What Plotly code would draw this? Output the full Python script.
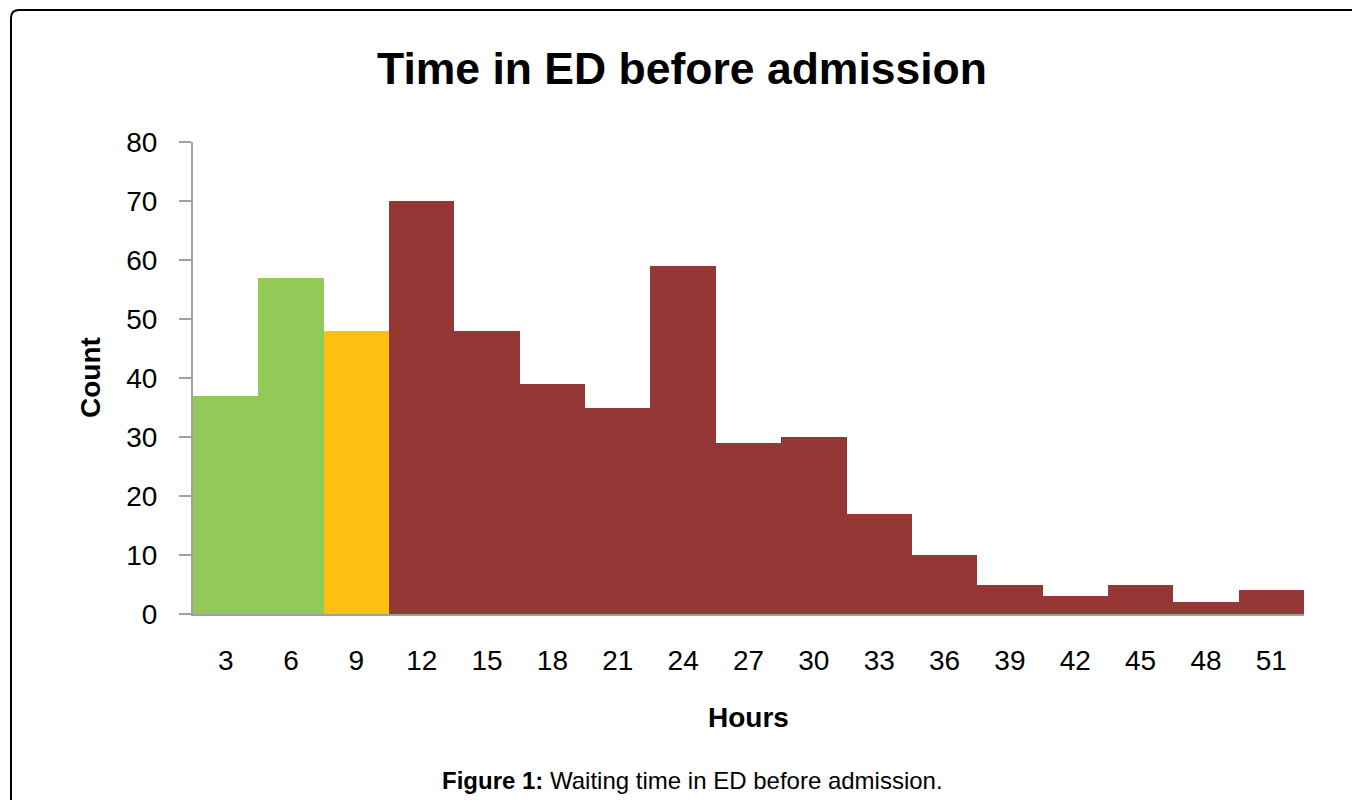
import plotly.graph_objects as go

hours = ["3", "6", "9", "12", "15", "18", "21", "24", "27", "30", "33", "36", "39", "42", "45", "48", "51"]
counts = [37, 57, 48, 70, 48, 39, 35, 59, 29, 30, 17, 10, 5, 3, 5, 2, 4]
groups = ["green", "green", "amber", "red", "red", "red", "red", "red", "red", "red",
          "red", "red", "red", "red", "red", "red", "red"]
palette = {"green": "#92C957", "amber": "#FDC012", "red": "#953735"}

OFF = 8  # page body margin
W, H = 1360 - OFF, 800 - OFF
# plot-area edges in screenshot pixels
L, R, T, B = 193, 1304, 142, 614


def px(x):
    return (x - L) / (R - L)


def py(y):
    return (B - y) / (B - T)


fig = go.Figure(go.Bar(
    x=hours, y=counts,
    marker=dict(color=[palette[g] for g in groups], line=dict(width=0)),
    width=1.0,
))

font = "Liberation Sans, Arial, sans-serif"

# rounded frame around the figure
r = 8
path = (f"M {px(11)} {py(805)} L {px(11)} {py(10 + r)} "
        f"Q {px(11)} {py(10)} {px(11 + r)} {py(10)} L {px(1365)} {py(10)}")

fig.update_layout(
    width=W, height=H,
    margin=dict(l=L - OFF, r=1360 - R, t=T - OFF, b=800 - B),
    paper_bgcolor="white", plot_bgcolor="white",
    bargap=0,
    showlegend=False,
    font=dict(family=font, color="black"),
    title=dict(text="<b>Time in ED before admission</b>", x=(682 - OFF) / W, xref="container",
               y=1 - (68 - OFF) / H, yref="container", xanchor="center", yanchor="middle",
               font=dict(size=44.5, family=font, color="black")),
    xaxis=dict(showline=True, linecolor="#A0A0A0", linewidth=2, ticks="",
               tickfont=dict(size=28, family=font, color="black"),
               ticklabelstandoff=20, showgrid=False, zeroline=False),
    yaxis=dict(range=[0, 80], dtick=10, showline=True, linecolor="#A0A0A0", linewidth=2,
               ticks="outside", ticklen=12, tickcolor="#A0A0A0", tickwidth=2,
               tickfont=dict(size=28, family=font, color="black"),
               ticklabelstandoff=16, showgrid=False, zeroline=False),
    shapes=[dict(type="path", path=path, xref="paper", yref="paper",
                 line=dict(color="black", width=2))],
    annotations=[
        dict(text="<b>Count</b>", textangle=-90, x=px(90), y=py(378), xref="paper", yref="paper",
             showarrow=False, xanchor="center", yanchor="middle",
             font=dict(size=28, family=font, color="black")),
        dict(text="<b>Hours</b>", x=px(748), y=py(717), xref="paper", yref="paper",
             showarrow=False, xanchor="center", yanchor="middle",
             font=dict(size=28, family=font, color="black")),
        dict(text="<b>Figure 1:</b> Waiting time in ED before admission.", x=px(692), y=py(780),
             xref="paper", yref="paper", showarrow=False, xanchor="center", yanchor="middle",
             font=dict(size=24, family=font, color="black")),
    ],
)

fig.write_html("out.html")
